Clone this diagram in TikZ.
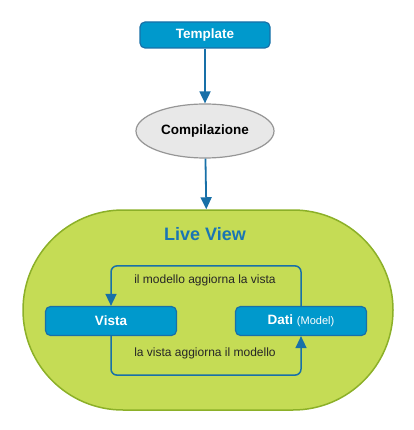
\documentclass[tikz,border=0pt]{standalone}
\usepackage{fontspec}
\setmainfont{Liberation Sans}
\usepackage{tikz}
\usetikzlibrary{arrows.meta,positioning,shapes.geometric}

\definecolor{boxblue}{RGB}{0,153,204}
\definecolor{lineblue}{RGB}{24,112,168}
\definecolor{titleblue}{RGB}{25,117,180}
\definecolor{livegreen}{RGB}{197,220,85}
\definecolor{livegreenline}{RGB}{140,176,40}
\definecolor{ellgray}{RGB}{232,232,232}
\definecolor{ellline}{RGB}{150,150,150}

\begin{document}
\begin{tikzpicture}[x=1pt, y=-1pt, >={Triangle[width=11pt,length=12pt]}]
        \tikzset{block/.style={rectangle, draw=lineblue, line width=1.2pt, rounded corners=5pt, fill=boxblue, text=white, font=\fontsize{13.5}{15}\selectfont\bfseries, minimum width=131pt, minimum height=29pt, inner sep=0pt},
                 mainflow/.style={draw=lineblue, line width=1.8pt, ->},
                 loopflow/.style={draw=lineblue, line width=1.5pt, rounded corners=6pt, ->},
                 looplabel/.style={font=\fontsize{12}{14}\selectfont, text=black!85}}
        \useasboundingbox (0,0) rectangle (413,430);
        \node[rectangle, draw=livegreenline, line width=1.5pt, fill=livegreen, rounded corners=100pt, minimum width=370pt, minimum height=200pt] (live) at (208,310) {};
        \node[font=\fontsize{18}{20}\selectfont\bfseries, text=titleblue] (title) at (205,234) {Live View};
        \node[block, minimum width=130pt, minimum height=26pt] (template) at (205,35) {Template};
        \node[ellipse, draw=ellline, line width=1.2pt, fill=ellgray, minimum width=138pt, minimum height=54pt, font=\fontsize{13.5}{15}\selectfont\bfseries] (comp) at (205,131) {Compilazione};
        \node[block] (vista) at (111,321) {Vista};
        \node[block] (dati) at (301,321) {Dati\ \mdseries\fontsize{11}{13}\selectfont(Model)};
        \draw[mainflow] (template) -- (comp);
        \draw[mainflow] (comp) -- (live);
        \draw[loopflow] (dati.north) -- ++(0,-40) -| (vista.north);
        \draw[loopflow] (vista.south) -- ++(0,39) -| (dati.south);
        \node[looplabel] at (205,280) {il modello aggiorna la vista};
        \node[looplabel] at (205,353) {la vista aggiorna il modello};
    \end{tikzpicture}
\end{document}
